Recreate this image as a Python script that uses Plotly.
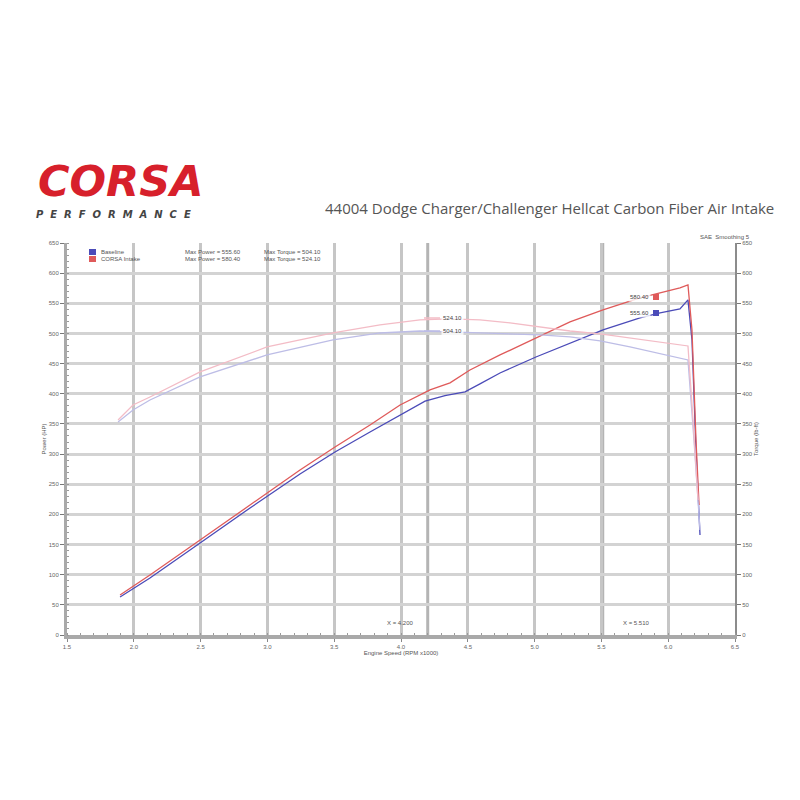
import plotly.graph_objects as go

# ---------------- data ----------------
series_names = ["Baseline", "CORSA Intake"]
series_colors_hp = ["#4b4bb8", "#df5a5a"]
series_colors_tq = ["#bdbde6", "#f3bcc6"]

rpm_base_hp = [1.897, 2.121, 2.496, 2.870, 3.244, 3.506, 3.768, 3.993, 4.180, 4.329,
               4.479, 4.591, 4.741, 5.010, 5.265, 5.512, 5.789, 5.939, 6.088, 6.148,
               6.178, 6.208, 6.238]
hp_base = [63.0, 94.5, 152.6, 210.6, 267.0, 303.5, 336.7, 364.8, 387.7, 397.0,
           403.3, 416.3, 434.5, 461.0, 484.3, 505.8, 525.7, 534.0, 540.6, 555.6,
           489.2, 306.8, 165.8]

rpm_corsa_hp = [1.897, 2.121, 2.496, 2.870, 3.244, 3.506, 3.768, 3.993, 4.217, 4.367,
                4.516, 4.741, 5.010, 5.265, 5.512, 5.789, 5.939, 6.088, 6.148, 6.178,
                6.208, 6.231]
hp_corsa = [66.3, 99.5, 157.5, 215.6, 273.6, 311.8, 348.3, 381.4, 406.3, 418.0,
            439.5, 464.4, 492.5, 519.1, 539.0, 558.9, 567.2, 575.5, 580.4, 505.8,
            323.4, 215.6]

rpm_base_tq = [1.882, 1.994, 2.121, 2.496, 2.997, 3.491, 3.843, 4.142, 4.367, 4.591,
               4.816, 5.040, 5.265, 5.490, 5.714, 5.939, 6.148, 6.193, 6.238]
tq_base = [353.2, 373.1, 389.7, 427.9, 464.4, 489.2, 500.8, 504.1, 502.5, 500.8,
           499.2, 497.5, 494.2, 487.6, 477.6, 466.0, 456.1, 323.4, 174.1]

rpm_corsa_tq = [1.882, 1.994, 2.121, 2.496, 2.997, 3.491, 3.843, 4.142, 4.367, 4.591,
                4.816, 5.040, 5.265, 5.490, 5.714, 5.939, 6.148, 6.186, 6.223]
tq_corsa = [356.6, 381.4, 394.7, 436.2, 477.6, 500.8, 514.1, 522.4, 524.1, 522.4,
            517.4, 510.8, 504.1, 499.2, 492.5, 485.9, 479.3, 356.6, 223.9]

cursor_rpm = [4.200, 5.510]

x_range = [1.5, 6.5]
y_range = [0, 650]

# ---------------- figure ----------------
OFF = 8  # page body margin
L, R, T, B = 67, 735, 243, 635
W, H = 800, 800


def px(xp):
    return (xp - L) / (R - L)


def py(yp):
    return (B - yp) / (B - T)


fig = go.Figure()

tq_sets = [(rpm_base_tq, tq_base), (rpm_corsa_tq, tq_corsa)]
hp_sets = [(rpm_base_hp, hp_base), (rpm_corsa_hp, hp_corsa)]

for i, (xs, ys) in enumerate(tq_sets):
    fig.add_trace(go.Scatter(x=xs, y=ys, mode="lines", yaxis="y2", name=series_names[i] + " TQ",
                             line=dict(color=series_colors_tq[i], width=1.3),
                             hoverinfo="skip", showlegend=False))
for i, (xs, ys) in enumerate(hp_sets):
    fig.add_trace(go.Scatter(x=xs, y=ys, mode="lines", name=series_names[i] + " HP",
                             line=dict(color=series_colors_hp[i], width=1.3),
                             hoverinfo="skip", showlegend=False))

tickfont = dict(size=6, color="#666666", family="Liberation Sans")

fig.update_layout(
    width=W, height=H,
    margin=dict(l=L - OFF, r=W - (R - OFF), t=T - OFF, b=H - (B - OFF), pad=0, autoexpand=False),
    paper_bgcolor="white", plot_bgcolor="white",
    font=dict(family="Liberation Sans", color="#555555"),
    xaxis=dict(range=x_range, dtick=0.5, tick0=1.5, tickformat=".1f", automargin=False,
               showgrid=True, gridcolor="#c6c6c6", gridwidth=2.5,
               showline=True, linecolor="#a9a9a9", linewidth=4,
               ticks="outside", ticklen=3, tickcolor="#888888", tickfont=tickfont,
               minor=dict(ticks="inside", ticklen=2, tickcolor="#9a9a9a", dtick=0.1, showgrid=False),
               zeroline=False,
               title=dict(text="Engine Speed (RPM x1000)", font=dict(size=6, color="#555555"), standoff=1)),
    yaxis=dict(range=y_range, dtick=50, showgrid=True, gridcolor="#d3d3d3", gridwidth=3,
               showline=True, linecolor="#a9a9a9", linewidth=3, automargin=False,
               ticks="outside", ticklen=4, tickcolor="#777777", tickfont=tickfont,
               minor=dict(ticks="inside", ticklen=2, tickcolor="#9a9a9a", dtick=10, showgrid=False),
               zeroline=False,
               title=dict(text="Power (HP)", font=dict(size=6, color="#555555"), standoff=2)),
    yaxis2=dict(range=y_range, dtick=50, overlaying="y", side="right", showgrid=False,
                showline=True, linecolor="#8c8c8c", linewidth=2, automargin=False,
                ticks="outside", ticklen=4, tickcolor="#777777", tickfont=tickfont,
                zeroline=False,
                title=dict(text="Torque (lb-ft)", font=dict(size=6, color="#555555"), standoff=2)),
)

shapes = []
for c in cursor_rpm:
    shapes.append(dict(type="line", xref="x", yref="paper", x0=c, x1=c, y0=0, y1=1,
                       line=dict(color="#b4b4b4", width=3), layer="below"))

anns = []
NB = "\u00a0"
# logo
anns.append(dict(xref="paper", yref="paper", x=px(36), y=py(208), xanchor="left", yanchor="bottom",
                 text="<b><i>CORSA</i></b>", showarrow=False,
                 font=dict(size=43, color="#d7202b", family="DejaVu Sans")))
anns.append(dict(xref="paper", yref="paper", x=px(34), y=py(207), xanchor="left", yanchor="top",
                 text="<b><i>" + (NB * 2).join("PERFORMANCE") + "</i></b>", showarrow=False,
                 font=dict(size=10, color="#444444", family="DejaVu Sans")))
# title
anns.append(dict(xref="paper", yref="paper", x=px(776), y=py(208), xanchor="right", yanchor="middle",
                 text="44004 Dodge Charger/Challenger Hellcat Carbon Fiber Air Intake", showarrow=False,
                 font=dict(size=15, color="#555555", family="Open Sans")))
# top right note
anns.append(dict(xref="paper", yref="paper", x=px(752), y=py(237), xanchor="right", yanchor="middle",
                 text="SAE  Smoothing 5", showarrow=False,
                 font=dict(size=6, color="#555555")))

# legend block
max_hp = [max(hp_base), max(hp_corsa)]
max_tq = [max(tq_base), max(tq_corsa)]
rows_y = [252, 259]
for i in range(2):
    shapes.append(dict(type="rect", xref="paper", yref="paper",
                       x0=px(89), x1=px(96), y0=py(rows_y[i] + 3), y1=py(rows_y[i] - 3),
                       fillcolor=series_colors_hp[i], line=dict(width=0)))
    anns.append(dict(xref="paper", yref="paper", x=px(99), y=py(rows_y[i]), xanchor="left",
                     yanchor="middle", text=series_names[i], showarrow=False,
                     font=dict(size=6, color="#555555")))
    anns.append(dict(xref="paper", yref="paper", x=px(243), y=py(rows_y[i]), xanchor="right",
                     yanchor="middle", text=f"Max Power = {max_hp[i]:.2f}", showarrow=False,
                     font=dict(size=6, color="#555555")))
    anns.append(dict(xref="paper", yref="paper", x=px(323), y=py(rows_y[i]), xanchor="right",
                     yanchor="middle", text=f"Max Torque = {max_tq[i]:.2f}", showarrow=False,
                     font=dict(size=6, color="#555555")))

# peak labels
hp_label_y = [313, 297]
tq_label_y = [331, 318]
for i in range(2):
    shapes.append(dict(type="rect", xref="paper", yref="paper",
                       x0=px(653), x1=px(659), y0=py(hp_label_y[i] + 3), y1=py(hp_label_y[i] - 3),
                       fillcolor=series_colors_hp[i], line=dict(width=0)))
    anns.append(dict(xref="paper", yref="paper", x=px(651), y=py(hp_label_y[i]), xanchor="right",
                     yanchor="middle", text=f"{max_hp[i]:.2f}", showarrow=False,
                     bgcolor="rgba(255,255,255,0.8)", font=dict(size=6, color="#444444")))
    shapes.append(dict(type="line", xref="paper", yref="paper",
                       x0=px(424), x1=px(440), y0=py(tq_label_y[i]), y1=py(tq_label_y[i]),
                       line=dict(color=series_colors_tq[i], width=1.5)))
    anns.append(dict(xref="paper", yref="paper", x=px(441), y=py(tq_label_y[i]), xanchor="left",
                     yanchor="middle", text=f"{max_tq[i]:.2f}", showarrow=False,
                     bgcolor="rgba(255,255,255,0.8)", font=dict(size=6, color="#444444")))

# cursor labels
anns.append(dict(xref="x", yref="paper", x=cursor_rpm[0], y=py(623), xanchor="right", yanchor="middle",
                 xshift=-12, text=f"X = {cursor_rpm[0]:.3f}", showarrow=False,
                 font=dict(size=6, color="#555555")))
anns.append(dict(xref="x", yref="paper", x=cursor_rpm[1], y=py(623), xanchor="left", yanchor="middle",
                 xshift=18, text=f"X = {cursor_rpm[1]:.3f}", showarrow=False,
                 font=dict(size=6, color="#555555")))

fig.update_layout(shapes=shapes, annotations=anns)

fig.write_html("out.html")
